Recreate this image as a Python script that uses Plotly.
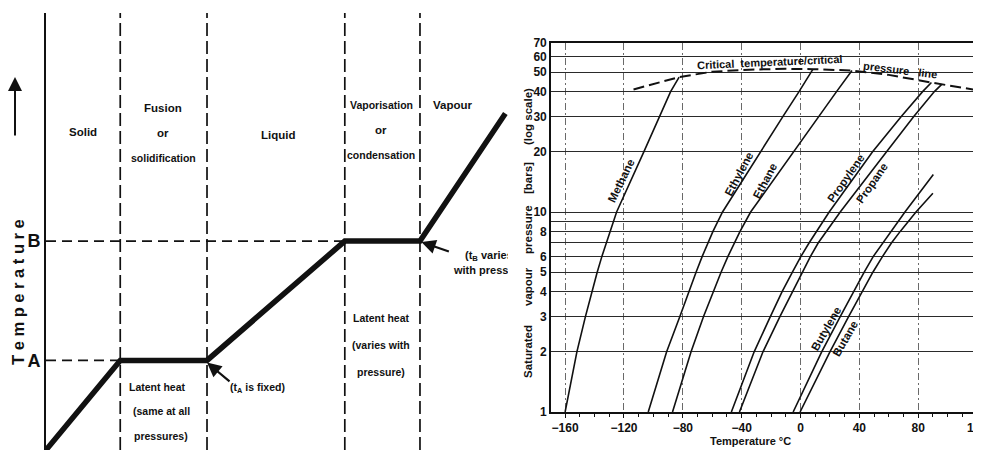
import math
import plotly.graph_objects as go

# The page adds an 8 px body margin, so the figure is drawn 8 px smaller and
# every layout position below is given in page pixels and shifted by OFF.
PAGE_W, PAGE_H, OFF = 981, 450, 8
FW, FH = PAGE_W - OFF, PAGE_H - OFF
FONT = "Liberation Sans, Arial, Helvetica, sans-serif"
INK = "#111111"

# ---------------- Left panel: schematic heating curve ----------------
heat = [0, 1.6, 3.47, 6.44, 8.06, 9.9]          # heat added (arbitrary units)
temp = [0, 2.05, 2.05, 4.78, 4.78, 7.7]         # temperature (arbitrary units)
phase_bounds = [1.6, 3.47, 6.44, 8.06]
level_names = ["A", "B"]
level_temps = [2.05, 4.78]

# ---------------- Right panel: saturated vapour pressure ----------------
methane_p = [1, 2, 3, 4, 5, 6, 8, 10, 20, 30, 40, 47.3]
methane_t = [-160, -152, -146.2, -141.8, -138.2, -135, -129.5, -125, -106.5, -95.8, -88.3, -82.5]
ethylene_p = [1, 2, 3, 4, 5, 6, 7, 8, 10, 20, 30, 40, 51.8]
ethylene_t = [-103.5, -91, -82, -76, -71, -66.8, -63, -59.5, -53, -27.5, -12, -1, 8.5]
ethane_p = [1, 2, 3, 4, 5, 6, 7, 8, 10, 20, 30, 40, 51]
ethane_t = [-87, -74.4, -65.9, -59.4, -54, -49.3, -45, -41.1, -33.9, -5, 12.5, 24.5, 35]
propylene_p = [1, 2, 3, 4, 5, 6, 7, 8, 10, 20, 30, 40, 44.4]
propylene_t = [-47, -31.5, -20.5, -12.5, -5.5, 0.3, 5.8, 10.8, 19.5, 49, 68.5, 83, 89]
propane_p = [1, 2, 3, 4, 5, 6, 7, 8, 10, 20, 30, 40, 43.5]
propane_t = [-41.5, -25.5, -14, -5.5, 1, 6.8, 12, 17.5, 27, 58.5, 77, 91, 96]
butylene_p = [1, 2, 3, 4, 5, 6, 7, 8, 10, 15.4]
butylene_t = [-5, 14.4, 27, 36, 43.3, 49.5, 56, 61.5, 71, 90.3]
butane_p = [1, 2, 3, 4, 5, 6, 7, 8, 9, 10, 12.4]
butane_t = [-0.3, 20, 32.7, 42, 49.2, 55.8, 61.8, 67.8, 73.2, 78.5, 90]
crit_t = [-113.5, -82.5, -60, -35, -10, 8.5, 35, 60, 89, 96, 123]
crit_p = [41, 47.3, 50.3, 51.5, 52, 51.8, 51, 48.5, 44.4, 43.5, 40.3]

x_ticks = [-160, -120, -80, -40, 0, 40, 80, 120]
x_tick_text = ["\u2212160", "\u2212120", "\u221280", "\u221240", "0", "40", "80", "120"]
y_ticks = [1, 2, 3, 4, 5, 6, 7, 8, 9, 10, 20, 30, 40, 50, 60, 70]
y_tick_text = ["1", "2", "3", "4", "5", "6", "", "8", "", "10", "20", "30", "40", "50", "60", "70"]

curves = [
    (methane_t, methane_p), (ethylene_t, ethylene_p), (ethane_t, ethane_p),
    (propylene_t, propylene_p), (propane_t, propane_p),
    (butylene_t, butylene_p), (butane_t, butane_p),
]


def px(x):
    return (x - OFF) / FW


def py(y):
    return 1 - (y - OFF) / FH


fig = go.Figure()

# left panel traces
bx, by = [], []
for b in phase_bounds:
    bx += [b, b, None]
    by += [0, 10, None]
fig.add_trace(go.Scatter(x=bx, y=by, mode="lines", xaxis="x", yaxis="y",
                         line=dict(color=INK, width=1.7, dash="13px,5px"), hoverinfo="skip"))
lx, ly = [], []
for i, t in enumerate(level_temps):
    end = heat[1] if i == 0 else heat[3]
    lx += [0, end, None]
    ly += [t, t, None]
fig.add_trace(go.Scatter(x=lx, y=ly, mode="lines", xaxis="x", yaxis="y",
                         line=dict(color=INK, width=1.7, dash="10px,6px"), hoverinfo="skip"))
fig.add_trace(go.Scatter(x=heat, y=temp, mode="lines", xaxis="x", yaxis="y",
                         line=dict(color=INK, width=5.5), hoverinfo="skip"))
# clipped label (runs off the panel edge as in the source)
fig.add_trace(go.Scatter(x=[(465 - 46) / 46.4, (454 - 46) / 46.4],
                         y=[(450 - 256) / 43.7, (450 - 271) / 43.7],
                         mode="text", xaxis="x", yaxis="y", cliponaxis=True,
                         text=["(t<sub>B</sub> varies", "with pressure)"],
                         textposition="middle right",
                         textfont=dict(family=FONT, size=11, color=INK, weight="bold"),
                         hoverinfo="skip"))

# right panel traces
fig.add_trace(go.Scatter(x=crit_t, y=crit_p, mode="lines", xaxis="x2", yaxis="y2",
                         line=dict(color=INK, width=2, dash="11px,5px"), hoverinfo="skip"))
for t, p in curves:
    fig.add_trace(go.Scatter(x=t, y=p, mode="lines", xaxis="x2", yaxis="y2",
                             line=dict(color=INK, width=1.6), hoverinfo="skip"))

bold = lambda s: dict(family=FONT, size=s, color=INK, weight="bold")

fig.update_layout(
    width=FW, height=FH, autosize=False,
    margin=dict(l=0, r=0, t=0, b=0, autoexpand=False),
    paper_bgcolor="white", plot_bgcolor="white",
    showlegend=False,
    xaxis=dict(domain=[px(46), px(508)], range=[0, 9.957], visible=False, automargin=False),
    yaxis=dict(domain=[0, py(13)], range=[0, 10], anchor="x", automargin=False,
               showline=True, linecolor=INK, linewidth=1.7,
               tickvals=level_temps, ticktext=level_names, ticks="",
               tickfont=bold(18), showgrid=False, zeroline=False),
    xaxis2=dict(domain=[px(551), 1], range=[-169.6, 122.7], anchor="y2", automargin=False,
                tickvals=x_ticks, ticktext=x_tick_text, tickfont=bold(12),
                ticklabeloverflow="allow",
                ticks="outside", ticklen=4, tickcolor=INK, tickwidth=1.3,
                minor=dict(dtick=10, tick0=0, ticks="outside", ticklen=3,
                           tickcolor=INK, tickwidth=1, showgrid=False),
                showgrid=True, gridcolor="#6a6a6a", gridwidth=1, griddash="7px,3px,2px,3px",
                showline=True, linecolor=INK, linewidth=1.7, mirror=True, zeroline=False),
    yaxis2=dict(domain=[py(412), py(43)], type="log", range=[0, math.log10(70)], anchor="x2",
                automargin=False,
                tickvals=y_ticks, ticktext=y_tick_text, tickfont=bold(12), ticks="",
                showgrid=True, gridcolor="#2a2a2a", gridwidth=1.3,
                showline=True, linecolor=INK, linewidth=1.7, zeroline=False),
)

notes = [
    # left panel
    ("Solid", 83, 132, 11.5, 0),
    ("Fusion", 163, 108, 11.5, 0), ("or", 163, 133, 11.5, 0), ("solidification", 163, 158, 10.5, 0),
    ("Liquid", 278, 135, 11.5, 0),
    ("Vaporisation", 381, 105, 10.5, 0), ("or", 381, 130, 11.5, 0), ("condensation", 381, 155, 10.5, 0),
    ("Vapour", 453, 105, 11.5, 0),
    ("Latent heat", 157, 387, 10.5, 0), ("(same at all", 161, 411, 10.5, 0), ("pressures)", 161, 436, 10.5, 0),
    ("Latent heat", 381, 318, 10.5, 0), ("(varies with", 381, 345, 10.5, 0), ("pressure)", 381, 372, 10.5, 0),
    ("(t<sub>A</sub> is fixed)", 257, 388, 10.5, 0),
    ("T e m p e r a t u r e", 18, 292, 16.5, -90),
    # right panel
    ("Critical  temperature/critical", 770, 62, 11, -2.5),
    ("pressure   line", 900, 70, 11, 7),
    ("Methane", 621, 181, 11.5, -64),
    ("Ethylene", 739, 174, 11.5, -62),
    ("Ethane", 765, 181, 11.5, -62),
    ("Propylene", 846, 178, 11.5, -55),
    ("Propane", 872, 183, 11.5, -55),
    ("Butylene", 826, 329, 11.5, -60),
    ("Butane", 845, 339, 11.5, -60),
    ("Saturated", 528, 352, 11.5, -90),
    ("vapour", 528, 287, 11.5, -90),
    ("pressure", 528, 230, 11.5, -90),
    ("[bars]", 528, 178, 11.5, -90),
    ("(log scale)", 528, 117, 11.5, -90),
    ("Temperature \u00b0C", 750, 441, 11, 0),
]
for text, x, y, s, ang in notes:
    fig.add_annotation(text=text, x=px(x), y=py(y), xref="paper", yref="paper",
                       showarrow=False, textangle=ang, font=bold(s),
                       xanchor="center", yanchor="middle")

# arrows
fig.add_annotation(x=heat[2], y=temp[2] - 0.05, xref="x", yref="y", text="",
                   showarrow=True, arrowhead=2, arrowsize=1.3, arrowwidth=2.2,
                   arrowcolor=INK, ax=24, ay=20)
fig.add_annotation(x=heat[4] + 0.03, y=temp[4] - 0.02, xref="x", yref="y", text="",
                   showarrow=True, arrowhead=2, arrowsize=1.3, arrowwidth=2.2,
                   arrowcolor=INK, ax=29, ay=10)
fig.add_annotation(x=px(15), y=py(77), xref="paper", yref="paper", text="",
                   showarrow=True, arrowhead=2, arrowsize=1.4, arrowwidth=2,
                   arrowcolor=INK, ax=0, ay=60)

fig.write_html("out.html")
